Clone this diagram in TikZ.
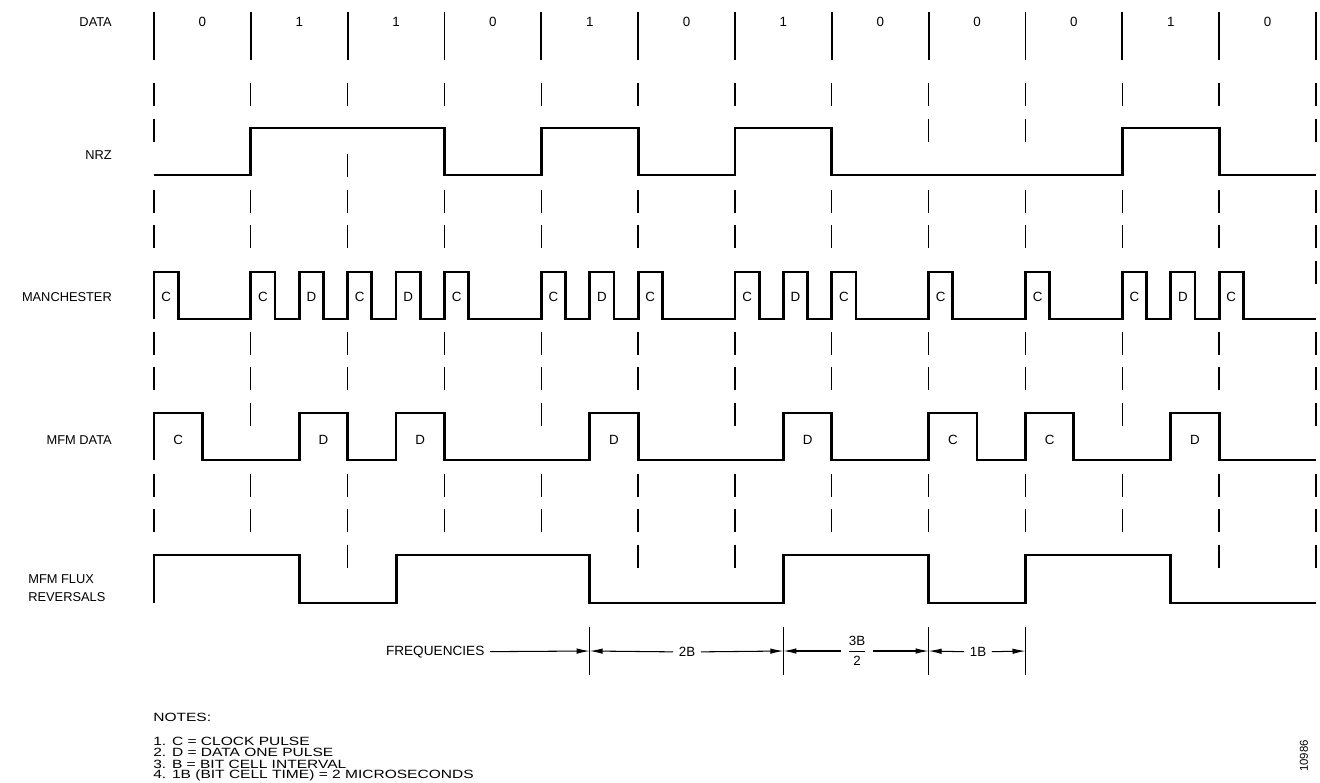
\documentclass[tikz,border=0pt]{standalone}
\usepackage{amsmath}
\usepackage{fontspec}
\setmainfont{Liberation Sans}
\usetikzlibrary{positioning,arrows.meta}

\begin{document}
\begin{tikzpicture}[x=0.02cm,y=-0.02cm,>={Latex[length=2.6mm,width=1.1mm]},
  wave/.style={line width=1.6pt,line join=miter},
  sepline/.style={line width=1pt},
  gridline/.style={line width=0.75pt},
  dimline/.style={line width=0.6pt},
  rowlabel/.style={anchor=east,font=\fontsize{7.3}{9}\selectfont},
  tag/.style={inner sep=1pt,font=\fontsize{7.6}{9}\selectfont},
  notetext/.style={anchor=west,inner sep=0pt,font=\fontsize{6.8}{7}\selectfont}]
\useasboundingbox (0,0) rectangle (1320,782);

% row names
\node[rowlabel] (lblData) at (118,22) {DATA};
\node[rowlabel] (lblNrz) at (118,155) {NRZ};
\node[rowlabel] (lblMan) at (118,297) {MANCHESTER};
\node[rowlabel] (lblMfm) at (118,440) {MFM DATA};
\node[anchor=west,align=left,inner sep=0pt,font=\fontsize{7.3}{10.2}\selectfont] (lblFlux) at (28,588) {MFM FLUX\\REVERSALS};

% bit cells
\foreach \b [count=\n from 0] in {0,1,1,0,1,0,1,0,0,0,1,0}
  \node[tag] (bit\n) at ({154+96.83*(\n+0.5)},22) {\b};
\foreach \n in {0,...,12}
  \draw[sepline] ({154+96.83*\n},12) -- ({154+96.83*\n},60);

% broken cell boundaries
\foreach \n/\ks in {0/{0,1,3,4,7,8,11,12},1/{0,3,4,7,8,9,11,12},2/{0,2,3,4,7,8,11,12,13},
    3/{0,3,4,7,8,11,12},4/{0,3,4,7,8,9,11,12},5/{0,3,4,7,8,11,12,13},
    6/{0,3,4,7,8,9,11,12,13},7/{0,3,4,7,8,11,12},8/{0,1,3,4,7,8,11,12},
    9/{0,1,3,4,7,8,11,12},10/{0,3,4,7,8,9,11,12},11/{0,3,4,7,8,11,12,13},
    12/{0,1,3,4,5,7,8,9,11,12,13}}
  \foreach \k in \ks
    \draw[gridline] ({154+96.83*\n},{83+35.5*\k}) -- ++(0,23);

% NRZ
\draw[wave] (154,175) -- (250.8,175) -- (250.8,128) -- (444.5,128) -- (444.5,175)
  -- (541.3,175) -- (541.3,128) -- (638.2,128) -- (638.2,175) -- (735,175) -- (735,128)
  -- (831.8,128) -- (831.8,175) -- (1122.3,175) -- (1122.3,128) -- (1219.1,128)
  -- (1219.1,175) -- (1316,175);

% Manchester
\draw[wave] (154,319) \foreach \c in {0,1,1.5,2,2.5,3,4,4.5,5,6,6.5,7,8,9,10,10.5,11} {
  -- ({154+96.83*\c},319) -- ({154+96.83*\c},272) -- ({154+96.83*(\c+0.25)},272)
  -- ({154+96.83*(\c+0.25)},319) } -- (1316,319);
\foreach \c/\t [count=\n] in {0/C,1/C,1.5/D,2/C,2.5/D,3/C,4/C,4.5/D,5/C,6/C,6.5/D,7/C,8/C,9/C,10/C,10.5/D,11/C}
  \node[tag] (man\n) at ({154+96.83*(\c+0.125)},297) {\t};

% MFM data
\draw[wave] (154,460) \foreach \c in {0,1.5,2.5,4.5,6.5,8,9,10.5} {
  -- ({154+96.83*\c},460) -- ({154+96.83*\c},413) -- ({154+96.83*(\c+0.5)},413)
  -- ({154+96.83*(\c+0.5)},460) } -- (1316,460);
\foreach \c/\t [count=\n] in {0/C,1.5/D,2.5/D,4.5/D,6.5/D,8/C,9/C,10.5/D}
  \node[tag] (mfm\n) at ({154+96.83*(\c+0.25)},440) {\t};

% MFM flux reversals
\draw[wave] (154,603) -- (154,555) -- (299.2,555) -- (299.2,603) -- (396.1,603)
  -- (396.1,555) -- (589.7,555) -- (589.7,603) -- (783.4,603) -- (783.4,555)
  -- (928.6,555) -- (928.6,603) -- (1025.5,603) -- (1025.5,555) -- (1170.7,555)
  -- (1170.7,603) -- (1316,603);

% frequencies
\coordinate (f0) at (589.7,651);
\coordinate (f1) at (783.4,651);
\coordinate (f2) at (928.6,651);
\coordinate (f3) at (1025.5,651);
\foreach \p in {f0,f1,f2,f3}
  \draw[dimline] (\p) ++(0,-24) -- ++(0,48);
\node[tag,anchor=east,inner sep=3pt] (freq) at (490,652) {\scalebox{1.02}[1]{FREQUENCIES}};
\node[tag,inner sep=3pt] (twoB) at (687,652) {2B};
\node[tag,inner sep=3pt] (threeB) at (857,651) {$\dfrac{\text{3B}}{\text{2}}$};
\node[tag,inner sep=3pt] (oneB) at (978,652) {1B};
\draw[dimline,->] (freq) -- (f0);
\draw[dimline,->] (twoB) -- (f0);
\draw[dimline,->] (twoB) -- (f1);
\draw[dimline,->] (threeB) -- (f1);
\draw[dimline,->] (threeB) -- (f2);
\draw[dimline,->] (oneB) -- (f2);
\draw[dimline,->] (oneB) -- (f3);

% notes
\node[notetext] (notesHead) at (153,717) {\scalebox{1.3}[1]{NOTES:}};
\foreach \t [count=\n] in {1. C = CLOCK PULSE,2. D = DATA ONE PULSE,3. B = BIT CELL INTERVAL,4. 1B (BIT CELL TIME) = 2 MICROSECONDS}
  \node[notetext] (note\n) at (153,{729.5+11.5*\n}) {\scalebox{1.3}[1]{\t}};
\node[rotate=90,inner sep=0pt,font=\fontsize{6.5}{7}\selectfont] (figNo) at (1304,756) {10986};
\end{tikzpicture}
\end{document}
